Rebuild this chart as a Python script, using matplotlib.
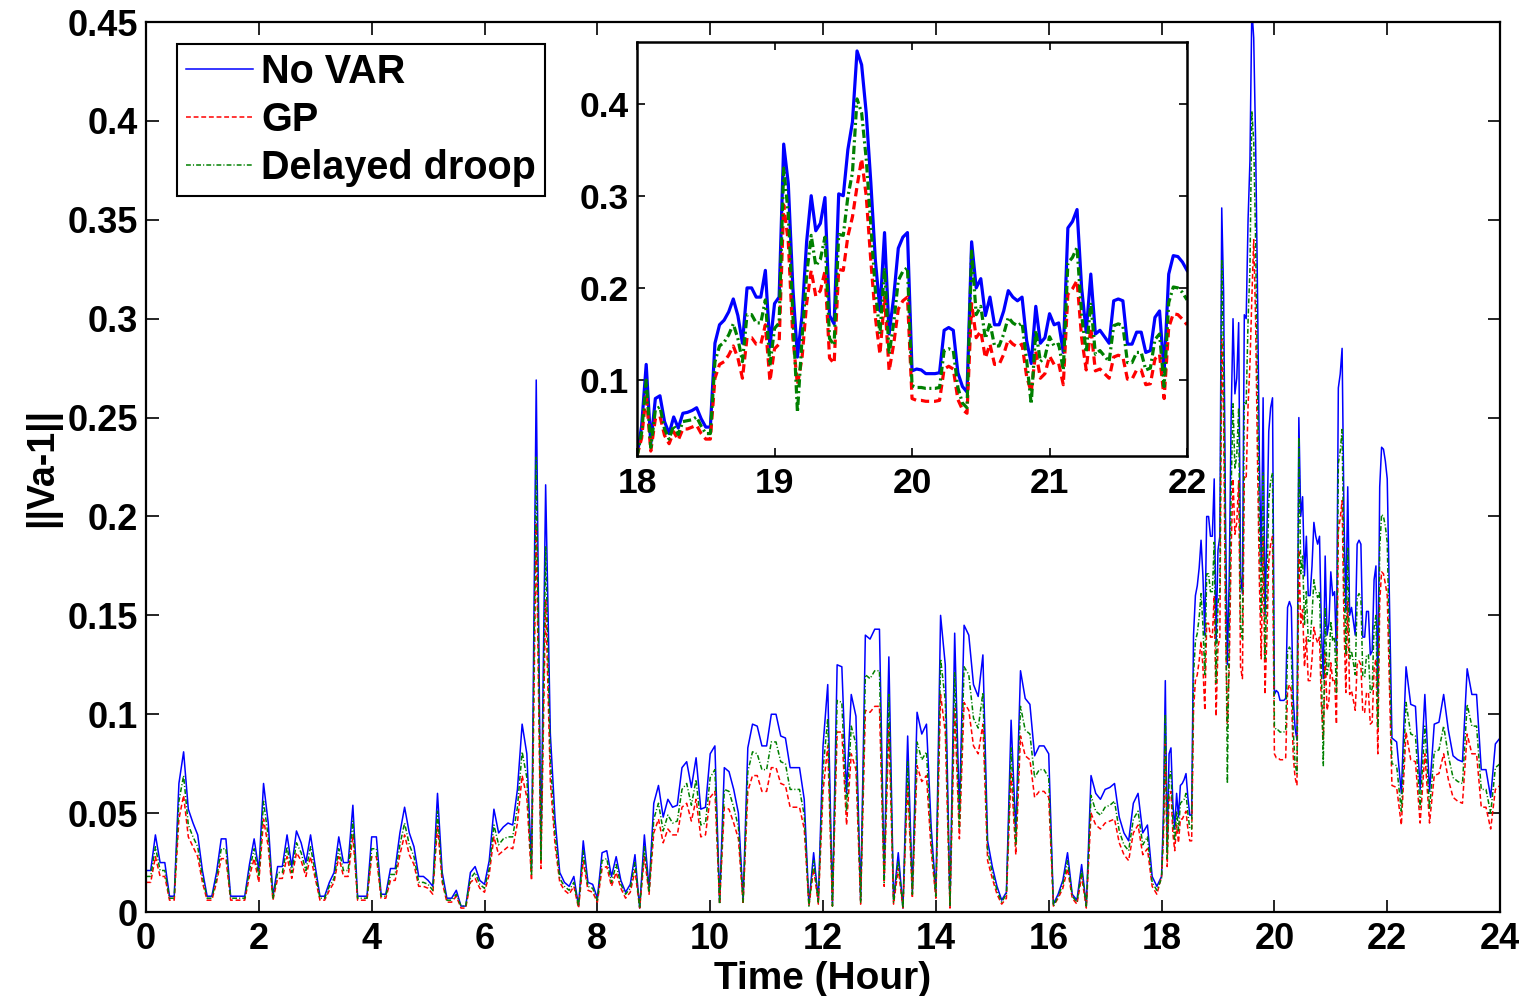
import numpy as np
import matplotlib
matplotlib.use("Agg")
import matplotlib.pyplot as plt

plt.rcParams['font.family'] = ['Liberation Sans', 'DejaVu Sans']
plt.rcParams['font.weight'] = 'bold'
plt.rcParams['lines.scale_dashes'] = False

# ---------------- data ----------------
# 0-18 h, 5-minute samples (12 per hour)
novar_0_18 = [
    0.021, 0.021, 0.039, 0.025, 0.025, 0.008, 0.008, 0.065, 0.081, 0.052, 0.045, 0.039,
    0.021, 0.008, 0.008, 0.020, 0.037, 0.037, 0.008, 0.008, 0.008, 0.008, 0.024, 0.037,
    0.021, 0.065, 0.045, 0.008, 0.023, 0.023, 0.039, 0.023, 0.041, 0.035, 0.025, 0.039,
    0.023, 0.008, 0.008, 0.015, 0.020, 0.038, 0.025, 0.025, 0.054, 0.008, 0.008, 0.008,
    0.038, 0.038, 0.009, 0.009, 0.022, 0.022, 0.040, 0.053, 0.040, 0.033, 0.018, 0.018,
    0.016, 0.013, 0.060, 0.020, 0.007, 0.007, 0.011, 0.003, 0.003, 0.020, 0.023, 0.016,
    0.014, 0.026, 0.052, 0.040, 0.043, 0.045, 0.044, 0.062, 0.095, 0.080, 0.022, 0.269,
    0.030, 0.216, 0.090, 0.047, 0.020, 0.015, 0.013, 0.018, 0.003, 0.036, 0.015, 0.014,
    0.007, 0.030, 0.031, 0.018, 0.028, 0.016, 0.010, 0.014, 0.029, 0.002, 0.039, 0.012,
    0.055, 0.064, 0.048, 0.057, 0.053, 0.054, 0.073, 0.076, 0.063, 0.078, 0.052, 0.053,
    0.080, 0.084, 0.005, 0.073, 0.071, 0.062, 0.050, 0.006, 0.083, 0.095, 0.094, 0.084,
    0.084, 0.100, 0.100, 0.089, 0.088, 0.073, 0.073, 0.073, 0.057, 0.004, 0.030, 0.006,
    0.084, 0.115, 0.004, 0.125, 0.124, 0.060, 0.110, 0.099, 0.006, 0.140, 0.138, 0.143,
    0.143, 0.018, 0.129, 0.006, 0.030, 0.002, 0.089, 0.010, 0.101, 0.090, 0.095, 0.043,
    0.009, 0.150, 0.125, 0.003, 0.141, 0.050, 0.145, 0.140, 0.115, 0.109, 0.130, 0.036,
    0.023, 0.013, 0.006, 0.010, 0.097, 0.040, 0.122, 0.108, 0.105, 0.079, 0.084, 0.084,
    0.080, 0.004, 0.009, 0.016, 0.030, 0.009, 0.006, 0.024, 0.003, 0.069, 0.060, 0.057,
    0.062, 0.063, 0.065, 0.048, 0.040, 0.036, 0.055, 0.060, 0.040, 0.044, 0.018, 0.013,
]
gp_0_18 = [
    0.015, 0.015, 0.028, 0.018, 0.018, 0.006, 0.006, 0.047, 0.059, 0.038, 0.033, 0.028,
    0.015, 0.006, 0.006, 0.015, 0.027, 0.027, 0.006, 0.006, 0.006, 0.006, 0.018, 0.027,
    0.015, 0.047, 0.033, 0.006, 0.017, 0.017, 0.028, 0.017, 0.030, 0.026, 0.018, 0.028,
    0.017, 0.006, 0.006, 0.011, 0.015, 0.028, 0.018, 0.018, 0.039, 0.006, 0.006, 0.006,
    0.028, 0.028, 0.007, 0.007, 0.016, 0.016, 0.029, 0.039, 0.029, 0.024, 0.013, 0.013,
    0.012, 0.009, 0.044, 0.015, 0.005, 0.005, 0.008, 0.002, 0.002, 0.015, 0.017, 0.012,
    0.010, 0.019, 0.038, 0.029, 0.031, 0.033, 0.032, 0.045, 0.069, 0.058, 0.016, 0.196,
    0.022, 0.158, 0.066, 0.034, 0.015, 0.011, 0.009, 0.013, 0.002, 0.026, 0.011, 0.010,
    0.005, 0.022, 0.023, 0.013, 0.020, 0.012, 0.007, 0.010, 0.021, 0.002, 0.028, 0.009,
    0.040, 0.047, 0.035, 0.042, 0.039, 0.039, 0.053, 0.055, 0.046, 0.057, 0.038, 0.039,
    0.058, 0.061, 0.004, 0.053, 0.052, 0.045, 0.037, 0.004, 0.061, 0.069, 0.069, 0.061,
    0.061, 0.073, 0.073, 0.065, 0.064, 0.053, 0.053, 0.053, 0.042, 0.003, 0.022, 0.004,
    0.061, 0.084, 0.003, 0.091, 0.091, 0.044, 0.080, 0.072, 0.004, 0.102, 0.101, 0.104,
    0.104, 0.013, 0.094, 0.004, 0.022, 0.002, 0.065, 0.007, 0.074, 0.066, 0.069, 0.031,
    0.007, 0.110, 0.091, 0.002, 0.103, 0.037, 0.106, 0.102, 0.084, 0.080, 0.095, 0.026,
    0.017, 0.009, 0.004, 0.007, 0.071, 0.029, 0.089, 0.079, 0.077, 0.058, 0.061, 0.061,
    0.058, 0.003, 0.007, 0.012, 0.022, 0.007, 0.004, 0.018, 0.002, 0.050, 0.044, 0.042,
    0.045, 0.046, 0.047, 0.035, 0.029, 0.026, 0.040, 0.044, 0.029, 0.032, 0.013, 0.009,
]
droop_0_18 = [
    0.018, 0.018, 0.033, 0.021, 0.021, 0.007, 0.007, 0.056, 0.069, 0.044, 0.038, 0.033,
    0.018, 0.007, 0.007, 0.017, 0.032, 0.032, 0.007, 0.007, 0.007, 0.007, 0.021, 0.032,
    0.018, 0.056, 0.038, 0.007, 0.020, 0.020, 0.033, 0.020, 0.035, 0.030, 0.021, 0.033,
    0.020, 0.007, 0.007, 0.013, 0.017, 0.032, 0.021, 0.021, 0.046, 0.007, 0.007, 0.007,
    0.032, 0.032, 0.008, 0.008, 0.019, 0.019, 0.034, 0.045, 0.034, 0.028, 0.015, 0.015,
    0.014, 0.011, 0.051, 0.017, 0.006, 0.006, 0.009, 0.003, 0.003, 0.017, 0.020, 0.014,
    0.012, 0.022, 0.044, 0.034, 0.037, 0.038, 0.038, 0.053, 0.081, 0.068, 0.019, 0.230,
    0.026, 0.185, 0.077, 0.040, 0.017, 0.013, 0.011, 0.015, 0.003, 0.031, 0.013, 0.012,
    0.006, 0.026, 0.027, 0.015, 0.024, 0.014, 0.009, 0.012, 0.025, 0.002, 0.033, 0.010,
    0.047, 0.055, 0.041, 0.049, 0.045, 0.046, 0.062, 0.065, 0.054, 0.067, 0.044, 0.045,
    0.068, 0.072, 0.004, 0.062, 0.061, 0.053, 0.043, 0.005, 0.071, 0.081, 0.080, 0.072,
    0.072, 0.086, 0.086, 0.076, 0.075, 0.062, 0.062, 0.062, 0.049, 0.003, 0.026, 0.005,
    0.072, 0.098, 0.003, 0.107, 0.106, 0.051, 0.094, 0.085, 0.005, 0.120, 0.118, 0.122,
    0.122, 0.015, 0.110, 0.005, 0.026, 0.002, 0.076, 0.009, 0.086, 0.077, 0.081, 0.037,
    0.008, 0.128, 0.107, 0.003, 0.121, 0.043, 0.124, 0.120, 0.098, 0.093, 0.111, 0.031,
    0.020, 0.011, 0.005, 0.009, 0.083, 0.034, 0.104, 0.092, 0.090, 0.068, 0.072, 0.072,
    0.068, 0.003, 0.008, 0.014, 0.026, 0.008, 0.005, 0.021, 0.003, 0.059, 0.051, 0.049,
    0.053, 0.054, 0.056, 0.041, 0.034, 0.031, 0.047, 0.051, 0.034, 0.038, 0.015, 0.011,
]

# 18-22 h, 2-minute samples (30 per hour)
novar_18_22 = [
    0.018, 0.050, 0.117, 0.031, 0.080, 0.083, 0.055, 0.042, 0.060, 0.048,
    0.064, 0.065, 0.067, 0.070, 0.058, 0.049, 0.049, 0.140, 0.160, 0.165,
    0.174, 0.188, 0.170, 0.140, 0.200, 0.200, 0.190, 0.190, 0.219, 0.136,
    0.183, 0.190, 0.356, 0.313, 0.200, 0.125, 0.170, 0.250, 0.300, 0.262,
    0.270, 0.298, 0.170, 0.161, 0.302, 0.300, 0.350, 0.380, 0.457, 0.442,
    0.390, 0.315, 0.230, 0.175, 0.260, 0.150, 0.190, 0.243, 0.255, 0.260,
    0.110, 0.112, 0.111, 0.107, 0.107, 0.107, 0.108, 0.154, 0.157, 0.154,
    0.108, 0.093, 0.087, 0.250, 0.200, 0.210, 0.170, 0.190, 0.160, 0.160,
    0.175, 0.197, 0.190, 0.186, 0.190, 0.143, 0.118, 0.180, 0.140, 0.146,
    0.172, 0.160, 0.162, 0.130, 0.265, 0.272, 0.285, 0.200, 0.152, 0.215,
    0.150, 0.154, 0.147, 0.140, 0.186, 0.188, 0.186, 0.139, 0.139, 0.152,
    0.152, 0.130, 0.132, 0.168, 0.175, 0.109, 0.215, 0.235, 0.234, 0.228,
]
gp_18_22 = [
    0.018, 0.037, 0.085, 0.023, 0.058, 0.061, 0.040, 0.031, 0.044, 0.035,
    0.047, 0.047, 0.049, 0.051, 0.042, 0.036, 0.036, 0.102, 0.117, 0.120,
    0.127, 0.137, 0.124, 0.102, 0.146, 0.146, 0.139, 0.139, 0.160, 0.099,
    0.134, 0.139, 0.290, 0.250, 0.146, 0.095, 0.124, 0.183, 0.219, 0.191,
    0.197, 0.218, 0.124, 0.118, 0.220, 0.219, 0.256, 0.277, 0.310, 0.340,
    0.300, 0.230, 0.168, 0.128, 0.190, 0.110, 0.139, 0.177, 0.186, 0.190,
    0.080, 0.078, 0.078, 0.077, 0.077, 0.077, 0.078, 0.112, 0.115, 0.112,
    0.079, 0.068, 0.064, 0.183, 0.146, 0.153, 0.124, 0.139, 0.117, 0.117,
    0.128, 0.144, 0.139, 0.136, 0.139, 0.104, 0.087, 0.131, 0.102, 0.107,
    0.126, 0.117, 0.118, 0.095, 0.193, 0.199, 0.208, 0.146, 0.111, 0.157,
    0.110, 0.112, 0.107, 0.102, 0.125, 0.127, 0.125, 0.101, 0.101, 0.111,
    0.111, 0.095, 0.096, 0.123, 0.128, 0.080, 0.157, 0.172, 0.171, 0.166,
]
droop_18_22 = [
    0.017, 0.043, 0.100, 0.027, 0.068, 0.071, 0.047, 0.036, 0.051, 0.041,
    0.055, 0.056, 0.057, 0.060, 0.050, 0.042, 0.042, 0.120, 0.137, 0.141,
    0.149, 0.161, 0.145, 0.120, 0.171, 0.171, 0.162, 0.162, 0.187, 0.116,
    0.156, 0.162, 0.330, 0.280, 0.171, 0.065, 0.145, 0.214, 0.257, 0.224,
    0.231, 0.255, 0.145, 0.138, 0.258, 0.257, 0.299, 0.325, 0.405, 0.390,
    0.340, 0.269, 0.197, 0.150, 0.222, 0.128, 0.162, 0.208, 0.218, 0.222,
    0.094, 0.092, 0.092, 0.091, 0.091, 0.091, 0.092, 0.132, 0.134, 0.132,
    0.092, 0.075, 0.070, 0.240, 0.171, 0.180, 0.145, 0.162, 0.137, 0.137,
    0.150, 0.168, 0.162, 0.159, 0.162, 0.122, 0.074, 0.154, 0.120, 0.125,
    0.147, 0.137, 0.139, 0.111, 0.227, 0.233, 0.244, 0.171, 0.130, 0.184,
    0.128, 0.132, 0.126, 0.120, 0.159, 0.161, 0.159, 0.119, 0.119, 0.130,
    0.130, 0.111, 0.113, 0.144, 0.150, 0.093, 0.184, 0.201, 0.200, 0.195,
]

# 22-24 h, 5-minute samples (incl. 24 h)
novar_22_24 = [0.219, 0.088, 0.086, 0.060, 0.124, 0.105, 0.104, 0.062, 0.110, 0.061, 0.095, 0.096,
               0.110, 0.092, 0.079, 0.077, 0.076, 0.123, 0.110, 0.110, 0.072, 0.072, 0.058, 0.085, 0.088]
gp_22_24 = [0.160, 0.064, 0.063, 0.044, 0.091, 0.077, 0.076, 0.045, 0.080, 0.045, 0.069, 0.070,
            0.080, 0.067, 0.058, 0.056, 0.055, 0.090, 0.080, 0.080, 0.053, 0.053, 0.042, 0.062, 0.064]
droop_22_24 = [0.187, 0.075, 0.074, 0.051, 0.106, 0.090, 0.089, 0.053, 0.094, 0.052, 0.081, 0.082,
               0.094, 0.079, 0.068, 0.066, 0.065, 0.105, 0.094, 0.094, 0.062, 0.062, 0.050, 0.073, 0.075]

x_ticks = [0, 2, 4, 6, 8, 10, 12, 14, 16, 18, 20, 22, 24]
y_ticks = [0, 0.05, 0.1, 0.15, 0.2, 0.25, 0.3, 0.35, 0.4, 0.45]
y_ticklabels = ['0', '0.05', '0.1', '0.15', '0.2', '0.25', '0.3', '0.35', '0.4', '0.45']
inset_xticks = [18, 19, 20, 21, 22]
inset_yticks = [0.1, 0.2, 0.3, 0.4]
inset_yticklabels = ['0.1', '0.2', '0.3', '0.4']
labels = ['No VAR', 'GP', 'Delayed droop']

# time axis (hours)
t = np.concatenate([np.arange(len(novar_0_18)) / 12.0,
                    18 + np.arange(len(novar_18_22)) / 30.0,
                    22 + np.arange(len(novar_22_24)) / 12.0])
novar = np.array(novar_0_18 + novar_18_22 + novar_22_24)
gp = np.array(gp_0_18 + gp_18_22 + gp_22_24)
droop = np.array(droop_0_18 + droop_18_22 + droop_22_24)

BLUE, RED, GREEN = '#0000ff', '#ff0000', '#008000'

fig = plt.figure(figsize=(15.24, 9.96), dpi=100)
ax = fig.add_axes([0.0958, 0.0843, 0.8885, 0.8936])

ax.plot(t, novar, color=BLUE, lw=1.1, label=labels[0])
ax.plot(t, gp, color=RED, lw=1.1, dashes=(3.5, 2.0), label=labels[1])
ax.plot(t, droop, color=GREEN, lw=1.1, dashes=(3.5, 1.5, 0.8, 1.5), label=labels[2])

ax.set_xlim(0, 24)
ax.set_ylim(0, 0.45)
ax.set_xticks(x_ticks)
ax.set_xticklabels([str(v) for v in x_ticks])
ax.set_yticks(y_ticks)
ax.set_yticklabels(y_ticklabels)
ax.tick_params(direction='in', length=9, width=1.2, top=True, right=True,
               labelsize=26, pad=6)
ax.tick_params(axis='x', pad=7)
for sp in ax.spines.values():
    sp.set_linewidth(1.6)
ax.set_xlabel('Time (Hour)', fontsize=28, fontweight='bold', labelpad=3)
ax.set_ylabel('||Va-1||', fontsize=27, fontweight='bold', labelpad=4)

leg = ax.legend(loc='upper left', bbox_to_anchor=(0.0229, 0.9753), fontsize=28.5,
                frameon=True, fancybox=False, edgecolor='black', framealpha=1,
                handlelength=1.7, handletextpad=0.2, labelspacing=0.26,
                borderpad=0.22, borderaxespad=0)
leg.get_frame().set_linewidth(1.5)

# inset
axin = fig.add_axes([0.418, 0.5422, 0.3609, 0.4157])
m = (t >= 18) & (t <= 22)
axin.plot(t[m], novar[m], color=BLUE, lw=2.3)
axin.plot(t[m], gp[m], color=RED, lw=2.3, dashes=(6, 3.5))
axin.plot(t[m], droop[m], color=GREEN, lw=2.3, dashes=(6, 2.5, 1.5, 2.5))
axin.set_xlim(18, 22)
axin.set_ylim(0.0177, 0.4668)
axin.set_xticks(inset_xticks)
axin.set_xticklabels([str(v) for v in inset_xticks])
axin.set_yticks(inset_yticks)
axin.set_yticklabels(inset_yticklabels)
axin.tick_params(direction='in', length=6, width=1.2, top=True, right=True,
                 labelsize=25.5, pad=6)
axin.tick_params(axis='x', pad=8)
for sp in axin.spines.values():
    sp.set_linewidth(1.8)

fig.savefig('out.png', dpi=100, facecolor='white')
